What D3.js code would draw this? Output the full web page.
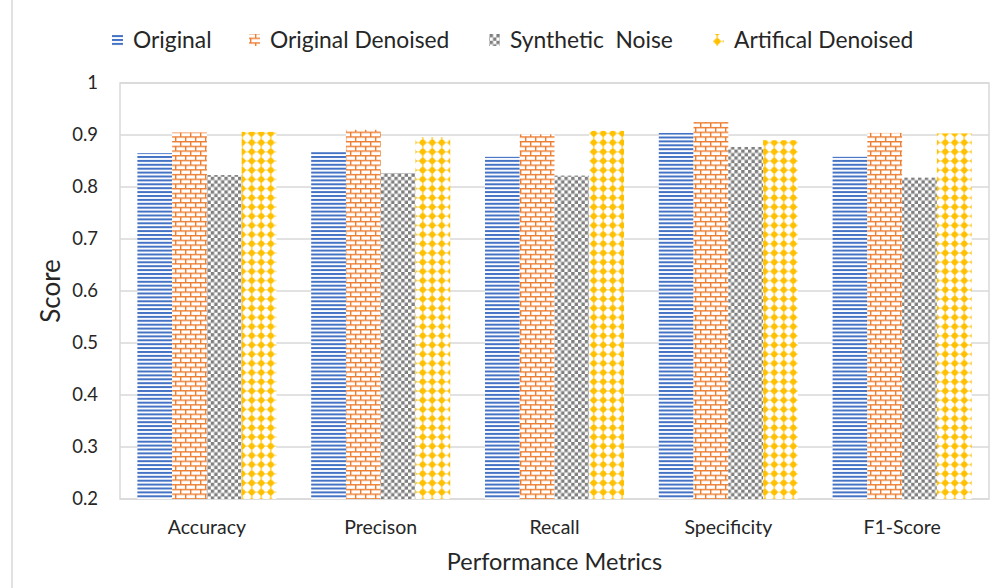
<!DOCTYPE html>
<html><head><meta charset="utf-8">
<script src="https://cdn.jsdelivr.net/npm/d3@7"></script>
<style>html,body{margin:0;padding:0;background:#fff;}svg{display:block;font-family:Lato,"Open Sans",sans-serif;}</style>
</head><body>
<svg id="chart" width="1005" height="588"></svg>
<script>
const categories = ["Accuracy","Precison","Recall","Specificity","F1-Score"];
const seriesNames = ["Original","Original Denoised","Synthetic  Noise","Artifical Denoised"];
const original          = [0.865,0.867,0.858,0.904,0.858];
const originalDenoised  = [0.905,0.910,0.901,0.925,0.904];
const syntheticNoise    = [0.823,0.827,0.822,0.877,0.818];
const artificalDenoised = [0.906,0.896,0.908,0.890,0.903];
const yTicks = [0.2,0.3,0.4,0.5,0.6,0.7,0.8,0.9,1];
const yTickLabels = ["0.2","0.3","0.4","0.5","0.6","0.7","0.8","0.9","1"];

const seriesValues = [original, originalDenoised, syntheticNoise, artificalDenoised];
const patIds = ["p-orig","p-brick","p-check","p-diam"];

const svg = d3.select("#chart");
const W = 1005, H = 588;
const plot = {l:120, r:989, t:83, b:499};

// outer chart frame (left edge visible)
svg.append("line").attr("x1",12).attr("x2",12).attr("y1",0).attr("y2",H)
  .attr("stroke","#d9d9d9").attr("stroke-width",1.5);

// patterns
const defs = svg.append("defs");
let p = defs.append("pattern").attr("id","p-orig").attr("patternUnits","userSpaceOnUse")
  .attr("width",8).attr("height",3.9);
p.append("rect").attr("width",8).attr("height",3.9).attr("fill","#ffffff");
p.append("rect").attr("y",0).attr("width",8).attr("height",2).attr("fill","#4472c4");
p = defs.append("pattern").attr("id","p-brick").attr("patternUnits","userSpaceOnUse")
  .attr("width",10).attr("height",9.4);
p.append("rect").attr("width",10).attr("height",9.4).attr("fill","#ffffff");
p.append("path").attr("d","M0,0.7H10M0,5.4H10M0.7,0.7V5.4M5.7,5.4V9.4")
  .attr("stroke","#ed7d31").attr("stroke-width",1.4).attr("fill","none");
p = defs.append("pattern").attr("id","p-check").attr("patternUnits","userSpaceOnUse")
  .attr("width",6.8).attr("height",6.8);
p.append("rect").attr("width",6.8).attr("height",6.8).attr("fill","#ffffff");
p.append("rect").attr("width",3.4).attr("height",3.4).attr("fill","#7f7f7f");
p.append("rect").attr("x",3.4).attr("y",3.4).attr("width",3.4).attr("height",3.4).attr("fill","#7f7f7f");
p = defs.append("pattern").attr("id","p-diam").attr("patternUnits","userSpaceOnUse")
  .attr("width",9.5).attr("height",9.2);
p.append("rect").attr("width",9.5).attr("height",9.2).attr("fill","#ffffff");
p.append("circle").attr("cx",4.75).attr("cy",4.6).attr("r",2.9).attr("fill","#ffc000");
p.append("path").attr("d","M4.75,0.3V8.9M0.5,4.6H9.0").attr("stroke","#ffc000").attr("stroke-width",1.5);

// scales
const x0 = d3.scaleBand().domain(categories).range([plot.l, plot.r]).paddingInner(0).paddingOuter(0);
const x1 = d3.scaleBand().domain(seriesNames).range([0, x0.bandwidth()]).paddingOuter(0.5).paddingInner(0);
const y = d3.scaleLinear().domain([0.2,1]).range([plot.b, plot.t]);

// gridlines
svg.append("g").selectAll("line").data(yTicks).join("line")
  .attr("x1",plot.l).attr("x2",plot.r)
  .attr("y1",d=>y(d)).attr("y2",d=>y(d))
  .attr("stroke","#d9d9d9").attr("stroke-width",1.5);
svg.append("rect").attr("x",plot.l).attr("y",plot.t).attr("width",plot.r-plot.l).attr("height",plot.b-plot.t)
  .attr("fill","none").attr("stroke","#d9d9d9").attr("stroke-width",1.5);

// bars
const gBars = svg.append("g");
categories.forEach((c,ci)=>{
  seriesNames.forEach((s,si)=>{
    const v = seriesValues[si][ci];
    gBars.append("rect")
      .attr("x", x0(c)+x1(s))
      .attr("y", y(v))
      .attr("width", x1.bandwidth())
      .attr("height", y(0.2)-y(v))
      .attr("fill", `url(#${patIds[si]})`);
  });
});

const txt = "#262626";
const yAxis = d3.axisLeft(y).tickValues(yTicks).tickFormat((d,i)=>yTickLabels[i]).tickSize(0).tickPadding(22);
const ga = svg.append("g").attr("transform",`translate(${plot.l},0)`).call(yAxis);
ga.select(".domain").remove();
ga.selectAll("text").attr("font-size",18.5).attr("fill",txt).attr("font-family","Lato,'Open Sans',sans-serif");

const xAxis = d3.axisBottom(x0).tickSize(0).tickPadding(21);
const gx = svg.append("g").attr("transform",`translate(0,${plot.b})`).call(xAxis);
gx.select(".domain").remove();
gx.selectAll("text").attr("font-size",19.5).attr("fill",txt).attr("font-family","Lato,'Open Sans',sans-serif");

svg.append("text").attr("x",(plot.l+plot.r)/2).attr("y",570).attr("text-anchor","middle")
  .attr("font-size",23.5).attr("fill",txt).text("Performance Metrics");
svg.append("text").attr("transform","translate(60,291) rotate(-90)").attr("text-anchor","middle")
  .attr("font-size",26).attr("fill",txt).text("Score");

// legend
const legX = [112, 249, 489, 713];
const lg = svg.append("g");
seriesNames.forEach((s,i)=>{
  lg.append("rect").attr("x",legX[i]).attr("y",34).attr("width",11).attr("height",12)
    .attr("fill",`url(#${patIds[i]})`);
  lg.append("text").attr("x",legX[i]+21).attr("y",48).attr("font-size",22.8).attr("fill",txt)
    .attr("xml:space","preserve").style("white-space","pre").text(s);
});
</script>
</body></html>
